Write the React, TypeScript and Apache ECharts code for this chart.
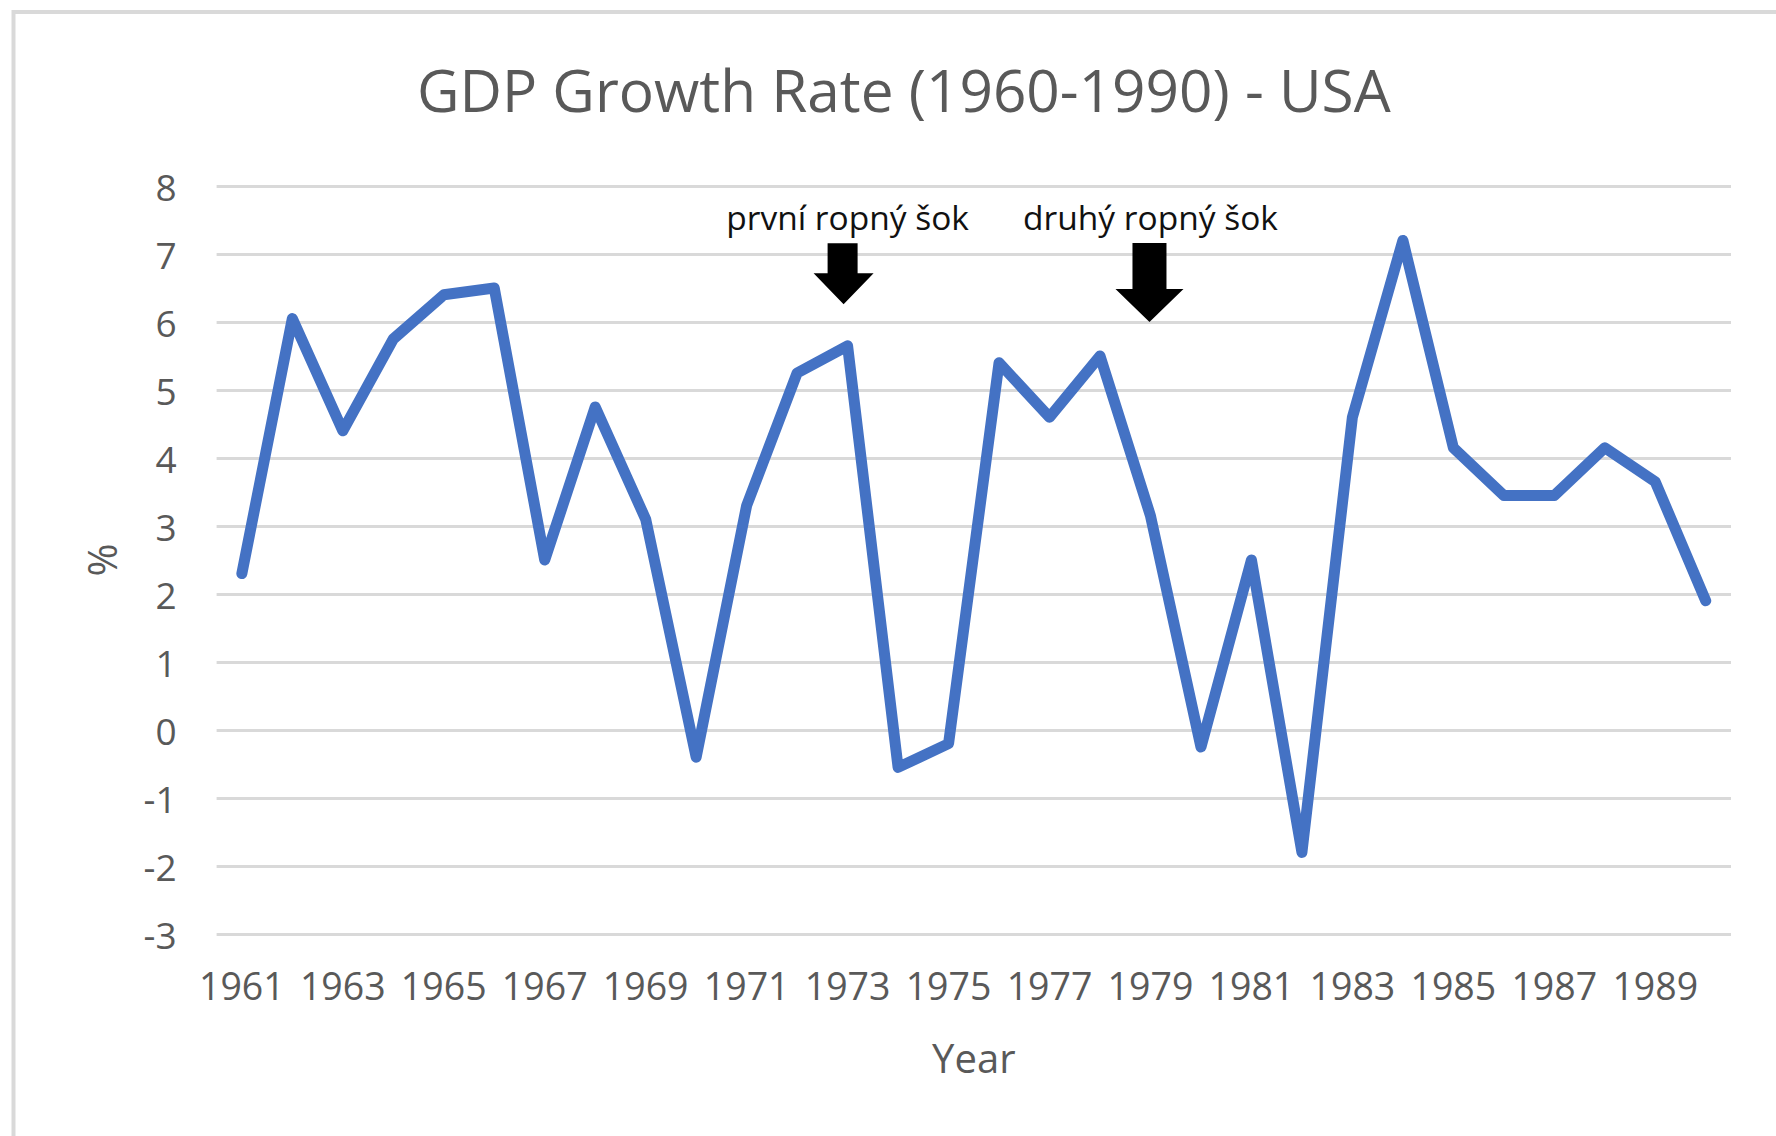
import React, { useEffect, useRef } from "react";
import * as echarts from "echarts";

const years: string[] = [
  "1961", "1962", "1963", "1964", "1965", "1966", "1967", "1968", "1969", "1970",
  "1971", "1972", "1973", "1974", "1975", "1976", "1977", "1978", "1979", "1980",
  "1981", "1982", "1983", "1984", "1985", "1986", "1987", "1988", "1989", "1990",
];

const gdpGrowth: number[] = [
  2.3, 6.05, 4.4, 5.75, 6.4, 6.5, 2.5, 4.75, 3.1, -0.4,
  3.3, 5.25, 5.65, -0.55, -0.2, 5.4, 4.6, 5.5, 3.15, -0.25,
  2.5, -1.8, 4.6, 7.2, 4.15, 3.45, 3.45, 4.15, 3.65, 1.9,
];

const yMin = -3;
const yMax = 8;
const yStep = 1;

const titleText = "GDP Growth Rate (1960-1990) - USA";
const xName = "Year";
const yName = "%";

const annotationYears: string[] = ["1973", "1979"];
const annotationTexts: string[] = ["první ropný šok", "druhý ropný šok"];
const annotationTextLevel: number[] = [7.55, 7.55];
const arrowLevels: number[] = [6.71, 6.58];

const FONT = '"Open Sans", "Noto Sans", sans-serif';
const GRAY = "#595959";

const arrowSmall = "path://M14 0 L44 0 L44 30 L60 30 L30 61 L0 30 L14 30 Z";
const arrowLarge = "path://M17 0 L51 0 L51 46 L68 46 L34 79 L0 46 L17 46 Z";

export default function App() {
  const ref = useRef<HTMLDivElement>(null);

  useEffect(() => {
    if (!ref.current) return;
    const chart = echarts.init(ref.current, null, { renderer: "svg" });

    const markData: any[] = [];
    annotationYears.forEach((yr, i) => {
      markData.push({
        coord: [yr, annotationTextLevel[i]],
        symbol: "rect",
        symbolSize: [1, 1],
        itemStyle: { color: "rgba(0,0,0,0)" },
        label: {
          show: true,
          position: "inside",
          formatter: annotationTexts[i],
          color: "#111111",
          fontSize: 33.5,
          fontFamily: FONT,
        },
      });
      markData.push({
        coord: [yr, arrowLevels[i]],
        symbol: i === 0 ? arrowSmall : arrowLarge,
        symbolSize: i === 0 ? [60, 61] : [68, 79],
        symbolOffset: i === 0 ? [-4, 0] : [-1, 0],
        itemStyle: { color: "#000000" },
        label: { show: false },
      });
    });

    chart.setOption({
      animation: false,
      backgroundColor: "#ffffff",
      title: {
        text: titleText,
        left: 417,
        top: 60,
        padding: 0,
        textStyle: {
          color: GRAY,
          fontSize: 58.5,
          lineHeight: 58,
          fontWeight: "normal",
          fontFamily: FONT,
        },
      },
      graphic: [
        {
          type: "rect",
          shape: { x: 13.5, y: 12, width: 2000, height: 2000 },
          style: { fill: "none", stroke: "#d9d9d9", lineWidth: 4 },
          silent: true,
        },
      ],
      grid: { left: 216.6, right: 45, top: 186, bottom: 202, containLabel: false },
      xAxis: {
        type: "category",
        data: years,
        boundaryGap: true,
        name: xName,
        nameLocation: "middle",
        nameGap: 103,
        nameTextStyle: { color: GRAY, fontSize: 40, lineHeight: 40, fontFamily: FONT },
        axisLine: { show: false },
        axisTick: { show: false },
        axisLabel: {
          interval: 1,
          margin: 33,
          color: GRAY,
          fontSize: 37.5,
          lineHeight: 37,
          fontFamily: FONT,
        },
        splitLine: { show: false },
      },
      yAxis: {
        type: "value",
        min: yMin,
        max: yMax,
        interval: yStep,
        name: yName,
        nameLocation: "middle",
        nameRotate: 90,
        nameGap: 95,
        nameTextStyle: { color: GRAY, fontSize: 40, lineHeight: 40, fontFamily: FONT },
        axisLine: { show: false },
        axisTick: { show: false },
        axisLabel: {
          margin: 40,
          color: GRAY,
          fontSize: 37,
          fontFamily: FONT,
        },
        splitLine: { show: true, lineStyle: { color: "#d9d9d9", width: 3 } },
      },
      series: [
        {
          type: "line",
          data: gdpGrowth,
          showSymbol: false,
          symbol: "none",
          lineStyle: { color: "#4472C4", width: 11, cap: "round", join: "round" },
          itemStyle: { color: "#4472C4" },
          markPoint: {
            silent: true,
            data: markData,
          },
        },
      ],
    });

    return () => {
      chart.dispose();
    };
  }, []);

  return (
    <div
      ref={ref}
      style={{ position: "absolute", left: 0, top: 0, width: 1776, height: 1136 }}
    />
  );
}
